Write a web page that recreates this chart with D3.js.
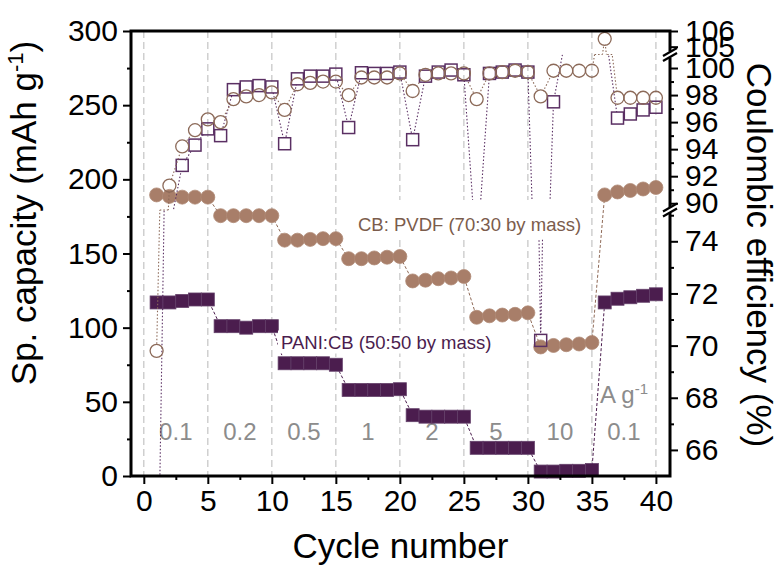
<!DOCTYPE html>
<html>
<head>
<meta charset="utf-8">
<script src="https://cdn.jsdelivr.net/npm/d3@7"></script>
<style>
  body { margin: 0; background: #fff; }
  text { font-family: "Liberation Sans", Arial, sans-serif; }
</style>
</head>
<body>
<div id="chart"></div>
<script>
// cycle numbers and the values
var cycles = d3.range(1, 41);
var paniCapacity = [117, 117, 118, 119, 119, 101, 101, 100, 101, 101,
                    76, 76, 76, 76, 75, 58, 58, 58, 58, 58.5,
                    41, 40, 40, 40, 40, 19, 19, 19, 19, 19,
                    3, 3, 3.5, 3.5, 4, 117, 119.5, 120.5, 121.5, 122.5];
var cbCapacity = [189.5, 188.5, 188, 188, 188, 175.5, 175.5, 175.5, 175.5, 175.5,
                  159, 159, 159.5, 160, 160, 146.5, 146.5, 147, 147.5, 148,
                  131.5, 132, 133, 133.5, 134.5, 107, 108, 108.5, 109, 110,
                  87, 88, 88.5, 89, 90, 189.5, 191.5, 192.5, 193.5, 194.5];
var cbEfficiency = [69.8, 91.3, 94.2, 95.4, 96.2, 96.0, 97.7, 97.9, 98.0, 98.2,
                    96.9, 98.8, 98.9, 99.0, 99.0, 98.0, 99.3, 99.3, 99.3, 99.6,
                    98.3, 99.5, 99.6, 99.6, 99.6, 97.7, 99.6, 99.7, 99.8, 99.7,
                    97.9, 99.8, 99.8, 99.8, 99.8, 105.5, 97.8, 97.8, 97.8, 97.8];
var paniEfficiency = [57, 88, 92.8, 94.3, 95.5, 95.0, 98.4, 98.6, 98.7, 98.6,
                      94.4, 99.2, 99.4, 99.4, 99.55, 95.6, 99.65, 99.6, 99.6, 99.7,
                      94.7, 99.4, 99.7, 99.85, 99.5, 85.9, 99.6, 99.7, 99.85, 99.7,
                      70.2, 97.5, 102.5, 102.5, 102.5, 103, 96.3, 96.6, 96.9, 97.1];
var rateLabels = ["0.1", "0.2", "0.5", "1", "2", "5", "10", "0.1"];
var rateCenters = [2.5, 7.5, 12.5, 17.5, 22.5, 27.5, 32.5, 37.5];
var cycleTicks = [0, 5, 10, 15, 20, 25, 30, 35, 40];
var cycleMinorTicks = [2.5, 7.5, 12.5, 17.5, 22.5, 27.5, 32.5, 37.5];
var capTicks = [0, 50, 100, 150, 200, 250, 300];
var capMinorTicks = [25, 75, 125, 175, 225, 275];
var ceTicks = [66, 68, 70, 72, 74, 90, 92, 94, 96, 98, 100, 105, 106];
var ceMinorTicks = [67, 69, 71, 73, 75, 91, 93, 95, 97, 99];

var width = 781, height = 565;
var plotLeft = 131, plotRight = 670, plotTop = 31, plotBottom = 476;

var paniColor = "#4b1d4e", cbColor = "#a87e69";
var paniOpen = "#5a2f63", cbOpen = "#8c6a59";
var gray = "#8c8c8c";

var svg = d3.select("#chart").append("svg")
    .attr("width", width)
    .attr("height", height);

var x = d3.scaleLinear().domain([-1, 41.1]).range([plotLeft, plotRight]);
var y = d3.scaleLinear().domain([0, 300]).range([plotBottom, plotTop]);

// broken right axis: three pieces stacked on each other
var ceBands = [
    {lo: 65, hi: 75.2, y0: 476, y1: 210},
    {lo: 89.5, hi: 101, y0: 210, y1: 54.5},
    {lo: 104.5, hi: 106, y0: 54.5, y1: 31}
];
ceBands.forEach(function(b) {
    b.scale = d3.scaleLinear().domain([b.lo, b.hi]).range([b.y0, b.y1]);
});

var defs = svg.append("defs");
ceBands.forEach(function(b, i) {
    defs.append("clipPath").attr("id", "band" + i)
        .append("rect")
        .attr("x", plotLeft).attr("y", b.y1)
        .attr("width", plotRight - plotLeft).attr("height", b.y0 - b.y1);
});

// vertical dashed grid
svg.append("g").selectAll("line")
    .data(cycleTicks)
    .enter().append("line")
    .attr("x1", function(d) { return x(d); })
    .attr("x2", function(d) { return x(d); })
    .attr("y1", plotTop).attr("y2", plotBottom)
    .attr("stroke", "#c4c4c4")
    .attr("stroke-width", 1.2)
    .attr("stroke-dasharray", "7,4");

// rate labels
svg.append("g").selectAll("text")
    .data(rateLabels)
    .enter().append("text")
    .attr("x", function(d, i) { return x(rateCenters[i]); })
    .attr("y", 440)
    .attr("text-anchor", "middle")
    .attr("font-size", 24)
    .attr("fill", gray)
    .text(function(d) { return d; });

var unit = svg.append("text")
    .attr("x", 600).attr("y", 403)
    .attr("font-size", 24)
    .attr("fill", gray);
unit.append("tspan").text("A g");
unit.append("tspan").attr("dy", -9).attr("font-size", 15).text("-1");

// capacity series
var capLine = d3.line()
    .x(function(d, i) { return x(cycles[i]); })
    .y(function(d) { return y(d); });

svg.append("path")
    .attr("d", capLine(cbCapacity))
    .attr("fill", "none")
    .attr("stroke", "#8f6a57")
    .attr("stroke-width", 1)
    .attr("stroke-dasharray", "3,2");

svg.append("path")
    .attr("d", capLine(paniCapacity))
    .attr("fill", "none")
    .attr("stroke", paniColor)
    .attr("stroke-width", 1)
    .attr("stroke-dasharray", "3,2");

svg.append("g").selectAll("circle")
    .data(cbCapacity)
    .enter().append("circle")
    .attr("cx", function(d, i) { return x(cycles[i]); })
    .attr("cy", function(d) { return y(d); })
    .attr("r", 7)
    .attr("fill", cbColor)
    .attr("stroke", "#b08a76")
    .attr("stroke-width", 0.8);

svg.append("g").selectAll("rect")
    .data(paniCapacity)
    .enter().append("rect")
    .attr("x", function(d, i) { return x(cycles[i]) - 6.5; })
    .attr("y", function(d) { return y(d) - 6.5; })
    .attr("width", 13).attr("height", 13)
    .attr("fill", paniColor)
    .attr("stroke", "#64406a")
    .attr("stroke-width", 0.8);

// coulombic efficiency, drawn piece by piece on the broken axis
function crossAt(scale, p, q, yb) {
    var ya = scale(p.v), yq = scale(q.v);
    if ((ya - yb) * (yq - yb) > 0 || ya === yq) return null;
    var t = (ya - yb) / (ya - yq);
    return x(p.c) + t * (x(q.c) - x(p.c));
}

function drawEfficiency(values, color, shape, id) {
    var pts = cycles.map(function(c, i) { return {c: c, v: values[i]}; });
    var bandOf = function(d) {
        return ceBands.filter(function(b) { return d.v >= b.lo && d.v <= b.hi; })[0];
    };
    var shown = pts.filter(function(d) { return bandOf(d); });
    var posY = function(d) { return bandOf(d).scale(d.v); };

    // keep the dotted line out of its own hollow markers
    var mask = defs.append("mask").attr("id", "gap" + id)
        .attr("maskUnits", "userSpaceOnUse")
        .attr("x", 0).attr("y", 0).attr("width", width).attr("height", height);
    mask.append("rect").attr("width", width).attr("height", height).attr("fill", "#fff");
    mask.selectAll("circle").data(shown).enter().append("circle")
        .attr("cx", function(d) { return x(d.c); })
        .attr("cy", posY)
        .attr("r", 6)
        .attr("fill", "#000");

    var lines = svg.append("g").attr("mask", "url(#gap" + id + ")");
    ceBands.forEach(function(b, i) {
        var line = d3.line()
            .x(function(d) { return x(d.c); })
            .y(function(d) { return b.scale(d.v); });
        lines.append("path")
            .attr("clip-path", "url(#band" + i + ")")
            .attr("d", line(pts))
            .attr("fill", "none")
            .attr("stroke", color)
            .attr("stroke-width", 1.1)
            .attr("stroke-dasharray", "1.5,2");
    });
    // short horizontal joins where a line jumps across a break
    for (var k = 0; k < ceBands.length - 1; k++) {
        var yb = ceBands[k].y1;
        for (var j = 0; j < pts.length - 1; j++) {
            var xa = crossAt(ceBands[k].scale, pts[j], pts[j + 1], yb);
            var xb = crossAt(ceBands[k + 1].scale, pts[j], pts[j + 1], yb);
            if (xa !== null && xb !== null) {
                lines.append("line")
                    .attr("x1", xa).attr("x2", xb)
                    .attr("y1", yb).attr("y2", yb)
                    .attr("stroke", color)
                    .attr("stroke-width", 1.1)
                    .attr("stroke-dasharray", "1.5,2");
            }
        }
    }

    var g = svg.append("g");
    if (shape === "circle") {
        g.selectAll("circle").data(shown).enter().append("circle")
            .attr("cx", function(d) { return x(d.c); })
            .attr("cy", posY)
            .attr("r", 6.5)
            .attr("fill", "none")
            .attr("stroke", color)
            .attr("stroke-width", 1.3);
    } else {
        g.selectAll("rect").data(shown).enter().append("rect")
            .attr("x", function(d) { return x(d.c) - 6; })
            .attr("y", function(d) { return posY(d) - 6; })
            .attr("width", 12).attr("height", 12)
            .attr("fill", "none")
            .attr("stroke", color)
            .attr("stroke-width", 1.5);
    }
}

drawEfficiency(paniEfficiency, paniOpen, "square", "pani");
drawEfficiency(cbEfficiency, cbOpen, "circle", "cb");

// series labels with white backing
function seriesLabel(txt, x0, y0, color, padTop, padBottom) {
    var g = svg.append("g");
    var bg = g.append("rect").attr("fill", "#fff");
    var t = g.append("text")
        .attr("x", x0).attr("y", y0)
        .attr("font-size", 18.5)
        .attr("fill", color)
        .text(txt);
    var bb = t.node().getBBox();
    bg.attr("x", bb.x - 3).attr("y", bb.y - padTop)
        .attr("width", bb.width + 6).attr("height", bb.height + padTop + padBottom);
}
seriesLabel("CB: PVDF (70:30 by mass)", 358, 231, "#7b5c4c", 14, 4);
seriesLabel("PANI:CB (50:50 by mass)", 281, 348.5, "#4b1d4e", 1, 1);

// frame
svg.append("rect")
    .attr("x", plotLeft).attr("y", plotTop)
    .attr("width", plotRight - plotLeft).attr("height", plotBottom - plotTop)
    .attr("fill", "none")
    .attr("stroke", "#000")
    .attr("stroke-width", 3);

function styleAxis(g) {
    g.select(".domain").remove();
    g.attr("font-size", 30).attr("font-family", "Liberation Sans, Arial, sans-serif");
    g.selectAll(".tick line").attr("stroke-width", 2);
}

svg.append("g")
    .attr("transform", "translate(" + plotLeft + ",0)")
    .call(d3.axisLeft(y).tickValues(capTicks).tickSize(8).tickPadding(5))
    .call(styleAxis);
svg.append("g")
    .attr("transform", "translate(" + plotLeft + ",0)")
    .call(d3.axisLeft(y).tickValues(capMinorTicks).tickSize(4).tickFormat(""))
    .call(styleAxis);

svg.append("g")
    .attr("transform", "translate(0," + plotBottom + ")")
    .call(d3.axisBottom(x).tickValues(cycleTicks).tickSize(8).tickPadding(6))
    .call(styleAxis);
svg.append("g")
    .attr("transform", "translate(0," + plotBottom + ")")
    .call(d3.axisBottom(x).tickValues(cycleMinorTicks).tickSize(4).tickFormat(""))
    .call(styleAxis);

ceBands.forEach(function(b) {
    var inside = function(v) { return v >= b.lo && v <= b.hi; };
    svg.append("g")
        .attr("transform", "translate(" + plotRight + ",0)")
        .call(d3.axisRight(b.scale).tickValues(ceTicks.filter(inside))
            .tickFormat(d3.format("d")).tickSize(8).tickPadding(7))
        .call(styleAxis);
    svg.append("g")
        .attr("transform", "translate(" + plotRight + ",0)")
        .call(d3.axisRight(b.scale).tickValues(ceMinorTicks.filter(inside)).tickSize(4).tickFormat(""))
        .call(styleAxis);
});

// break marks on the right axis
[ceBands[0].y1, ceBands[1].y1].forEach(function(yb) {
    svg.append("rect")
        .attr("x", plotRight - 4).attr("y", yb - 3)
        .attr("width", 8).attr("height", 6)
        .attr("fill", "#fff");
    [-2.5, 2.5].forEach(function(off) {
        svg.append("line")
            .attr("x1", plotRight - 7).attr("y1", yb + off + 4)
            .attr("x2", plotRight + 7).attr("y2", yb + off - 4)
            .attr("stroke", "#000")
            .attr("stroke-width", 2.2);
    });
});

// axis titles
var yTitle = svg.append("text")
    .attr("transform", "translate(36,213) rotate(-90)")
    .attr("text-anchor", "middle")
    .attr("font-size", 35);
yTitle.append("tspan").text("Sp. capacity (mAh g");
yTitle.append("tspan").attr("dy", -13).attr("font-size", 22).text("-1");
yTitle.append("tspan").attr("dy", 13).text(")");

svg.append("text")
    .attr("x", (plotLeft + plotRight) / 2).attr("y", 558)
    .attr("text-anchor", "middle")
    .attr("font-size", 35)
    .text("Cycle number");

svg.append("text")
    .attr("transform", "translate(747,255) rotate(90)")
    .attr("text-anchor", "middle")
    .attr("font-size", 35)
    .text("Coulombic efficiency (%)");
</script>
</body>
</html>
